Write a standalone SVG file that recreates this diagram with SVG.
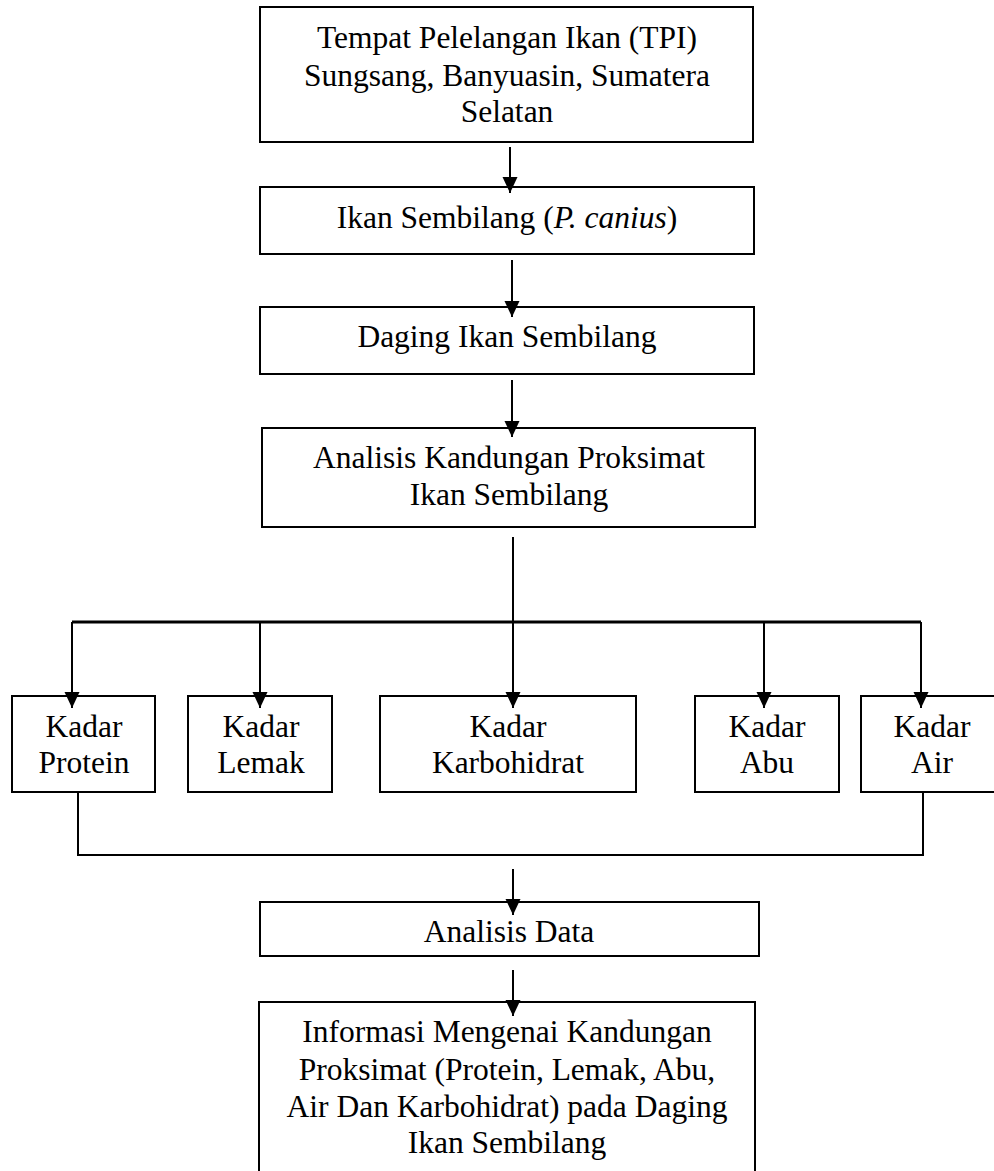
<svg xmlns="http://www.w3.org/2000/svg" width="994" height="1171" viewBox="0 0 994 1171">
<style>
.box{fill:#fff;stroke:#000;stroke-width:2}
.t{font-family:"Liberation Serif","Times New Roman",serif;font-size:31.5px;fill:#000;text-anchor:middle}
.c{fill:none;stroke:#000;stroke-width:2}
.bus{fill:none;stroke:#000;stroke-width:3}
</style>
<defs>
<marker id="ah" markerUnits="userSpaceOnUse" markerWidth="18" markerHeight="16" refX="16" refY="7.5" orient="auto">
<path d="M0,0 L16,7.5 L0,15 z" fill="#000"/>
</marker>
</defs>
<rect width="994" height="1171" fill="#fff"/>
<g id="n1"><rect class="box" x="260" y="7" width="493" height="135"/>
<text class="t" x="507" y="48">Tempat Pelelangan Ikan (TPI)</text>
<text class="t" x="507" y="86">Sungsang, Banyuasin, Sumatera</text>
<text class="t" x="507" y="122">Selatan</text></g>
<g id="n2"><rect class="box" x="260" y="187" width="494" height="67"/>
<text class="t" x="507" y="228">Ikan Sembilang (<tspan font-style="italic">P. canius</tspan>)</text></g>
<g id="n3"><rect class="box" x="260" y="307" width="494" height="67"/>
<text class="t" x="507" y="347">Daging Ikan Sembilang</text></g>
<g id="n4"><rect class="box" x="262" y="428" width="493" height="99"/>
<text class="t" x="509" y="468">Analisis Kandungan Proksimat</text>
<text class="t" x="509" y="505">Ikan Sembilang</text></g>
<g id="n5"><rect class="box" x="12" y="696" width="143" height="96"/>
<text class="t" x="84" y="737">Kadar</text><text class="t" x="84" y="773">Protein</text></g>
<g id="n6"><rect class="box" x="188" y="696" width="144" height="96"/>
<text class="t" x="261" y="737">Kadar</text><text class="t" x="261" y="773">Lemak</text></g>
<g id="n7"><rect class="box" x="380" y="696" width="256" height="96"/>
<text class="t" x="508" y="737">Kadar</text><text class="t" x="508" y="773">Karbohidrat</text></g>
<g id="n8"><rect class="box" x="695" y="696" width="144" height="96"/>
<text class="t" x="767" y="737">Kadar</text><text class="t" x="767" y="773">Abu</text></g>
<g id="n9"><rect class="box" x="861" y="696" width="142" height="96"/>
<text class="t" x="932" y="737">Kadar</text><text class="t" x="932" y="773">Air</text></g>
<g id="n10"><rect class="box" x="260" y="902" width="499" height="54"/>
<text class="t" x="509" y="942">Analisis Data</text></g>
<g id="n11"><rect class="box" x="259" y="1002" width="496" height="180"/>
<text class="t" x="507" y="1042">Informasi Mengenai Kandungan</text>
<text class="t" x="507" y="1080">Proksimat (Protein, Lemak, Abu,</text>
<text class="t" x="507" y="1117">Air Dan Karbohidrat) pada Daging</text>
<text class="t" x="507" y="1153">Ikan Sembilang</text></g>
<g id="connectors">
<line class="c" x1="510" y1="147" x2="510" y2="193" marker-end="url(#ah)"/>
<line class="c" x1="512" y1="260" x2="512" y2="317" marker-end="url(#ah)"/>
<line class="c" x1="512" y1="380" x2="512" y2="437" marker-end="url(#ah)"/>
<line class="c" x1="513" y1="537" x2="513" y2="622"/>
<line class="bus" x1="72" y1="622" x2="921" y2="622"/>
<line class="c" x1="72" y1="622" x2="72" y2="708" marker-end="url(#ah)"/>
<line class="c" x1="260" y1="622" x2="260" y2="708" marker-end="url(#ah)"/>
<line class="c" x1="513" y1="622" x2="513" y2="708" marker-end="url(#ah)"/>
<line class="c" x1="764" y1="622" x2="764" y2="708" marker-end="url(#ah)"/>
<line class="c" x1="921" y1="622" x2="921" y2="708" marker-end="url(#ah)"/>
<polyline class="c" points="78,792 78,855 923,855 923,792"/>
<line class="c" x1="513" y1="869" x2="513" y2="915" marker-end="url(#ah)"/>
<line class="c" x1="513" y1="970" x2="513" y2="1016" marker-end="url(#ah)"/>
</g>
</svg>
